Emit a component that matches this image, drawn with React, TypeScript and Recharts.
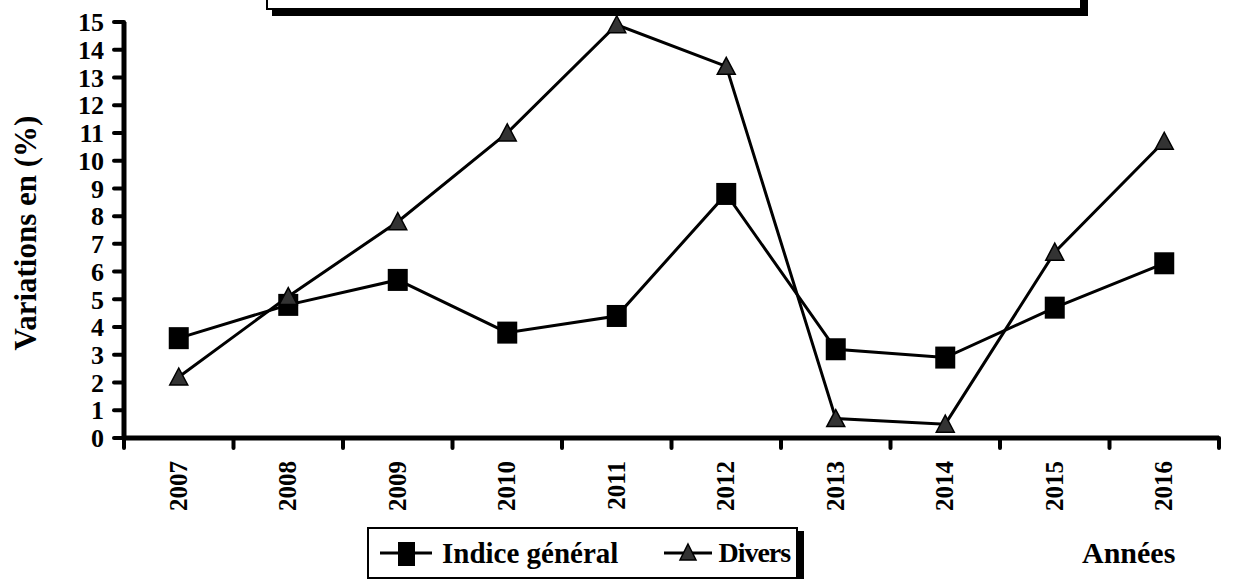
import React from 'react';
import { LineChart, Line, XAxis, YAxis } from 'recharts';

const years = ['2007', '2008', '2009', '2010', '2011', '2012', '2013', '2014', '2015', '2016'];
const indiceGeneral = [3.6, 4.8, 5.7, 3.8, 4.4, 8.8, 3.2, 2.9, 4.7, 6.3];
const divers = [2.2, 5.1, 7.8, 11.0, 14.9, 13.4, 0.7, 0.5, 6.7, 10.7];
const yTicks = [0, 1, 2, 3, 4, 5, 6, 7, 8, 9, 10, 11, 12, 13, 14, 15];

const data = years.map((year, i) => ({ year, indice: indiceGeneral[i], divers: divers[i] }));

const W = 1234;
const H = 579;
const M = { top: 22, right: 15, left: 0, bottom: 0 };
const Y_AXIS_W = 124;
const X_AXIS_H = 141;
const band = (W - M.left - M.right - Y_AXIS_W) / years.length;

const font = '"Liberation Serif", "Times New Roman", serif';

const SquareDot = (props: any) => {
  const { cx, cy, index } = props;
  if (cx == null || cy == null) return <g key={index} />;
  return <rect key={index} x={cx - 10} y={cy - 11} width={20} height={22} fill="#000" />;
};

const TriangleDot = (props: any) => {
  const { cx, cy, index } = props;
  if (cx == null || cy == null) return <g key={index} />;
  const pts = `${cx},${cy - 9} ${cx + 9},${cy + 8} ${cx - 9},${cy + 8}`;
  return <polygon key={index} points={pts} fill="#333" stroke="#000" strokeWidth={1.5} strokeLinejoin="miter" />;
};

const XTick = (props: any) => {
  const { x, y, payload, index } = props;
  const last = index === years.length - 1;
  return (
    <g transform={`translate(${x},${y})`}>
      <line x1={-band / 2} y1={0} x2={-band / 2} y2={10} stroke="#000" strokeWidth={4} strokeLinecap="round" />
      {last && <line x1={band / 2} y1={0} x2={band / 2} y2={10} stroke="#000" strokeWidth={4} strokeLinecap="round" />}
      <text
        transform="rotate(-90)"
        x={-23}
        y={8}
        textAnchor="end"
        fontFamily={font}
        fontWeight="bold"
        fontSize={25}
        fill="#000"
      >
        {payload.value}
      </text>
    </g>
  );
};

export default function App() {
  return (
    <div style={{ position: 'absolute', left: 0, top: 0, width: W, height: H, overflow: 'hidden', background: '#fff', fontFamily: font }}>
      {/* title box, mostly cut off at the top */}
      <div
        style={{
          position: 'absolute',
          left: 266,
          top: -40,
          width: 812,
          height: 46,
          border: '2px solid #000',
          boxShadow: '6px 6px 0 #000',
          background: '#fff',
        }}
      />

      <LineChart width={W} height={H} data={data} margin={M}>
        <XAxis
          dataKey="year"
          scale="band"
          interval={0}
          height={X_AXIS_H}
          tickLine={false}
          tickSize={0}
          tickMargin={0}
          axisLine={{ stroke: '#000', strokeWidth: 5 }}
          tick={<XTick />}
        />
        <YAxis
          width={Y_AXIS_W}
          domain={[0, 15]}
          ticks={yTicks}
          interval={0}
          tickSize={10}
          tickMargin={10}
          axisLine={{ stroke: '#000', strokeWidth: 5 }}
          tickLine={{ stroke: '#000', strokeWidth: 4, strokeLinecap: 'round' }}
          tick={{ fontFamily: font, fontWeight: 'bold', fontSize: 26, fill: '#000' }}
        />
        <Line
          type="linear"
          dataKey="indice"
          name="Indice général"
          stroke="#000"
          strokeWidth={3}
          dot={SquareDot}
          activeDot={false}
          isAnimationActive={false}
        />
        <Line
          type="linear"
          dataKey="divers"
          name="Divers"
          stroke="#000"
          strokeWidth={3}
          dot={TriangleDot}
          activeDot={false}
          isAnimationActive={false}
        />
      </LineChart>

      {/* y axis title */}
      <div
        style={{
          position: 'absolute',
          left: 25,
          top: 233,
          transform: 'translate(-50%, -50%) rotate(-90deg)',
          whiteSpace: 'nowrap',
          fontWeight: 'bold',
          fontSize: 31,
          lineHeight: 1,
        }}
      >
        Variations en (%)
      </div>

      {/* legend */}
      <div
        style={{
          position: 'absolute',
          left: 367,
          top: 527,
          width: 427,
          height: 48,
          border: '2px solid #000',
          boxShadow: '6px 4px 0 #000',
          background: '#fff',
          display: 'flex',
          alignItems: 'center',
          fontWeight: 'bold',
          fontSize: 29,
          whiteSpace: 'nowrap',
        }}
      >
        <svg width={56} height={30} style={{ marginLeft: 9 }}>
          <line x1={2} y1={15} x2={54} y2={15} stroke="#000" strokeWidth={3} />
          <rect x={20} y={4} width={17} height={24} fill="#000" />
        </svg>
        <span style={{ marginLeft: 8 }}>Indice général</span>
        <svg width={52} height={30} style={{ marginLeft: 44 }}>
          <line x1={2} y1={15} x2={50} y2={15} stroke="#000" strokeWidth={3} />
          <polygon points="26,6 34,22 18,22" fill="#333" stroke="#000" strokeWidth={1.5} />
        </svg>
        <span style={{ marginLeft: 4, fontSize: 28, letterSpacing: -1 }}>Divers</span>
      </div>

      {/* x axis title */}
      <div
        style={{
          position: 'absolute',
          left: 1082,
          top: 538,
          fontWeight: 'bold',
          fontSize: 30,
          lineHeight: 1,
        }}
      >
        Années
      </div>
    </div>
  );
}
